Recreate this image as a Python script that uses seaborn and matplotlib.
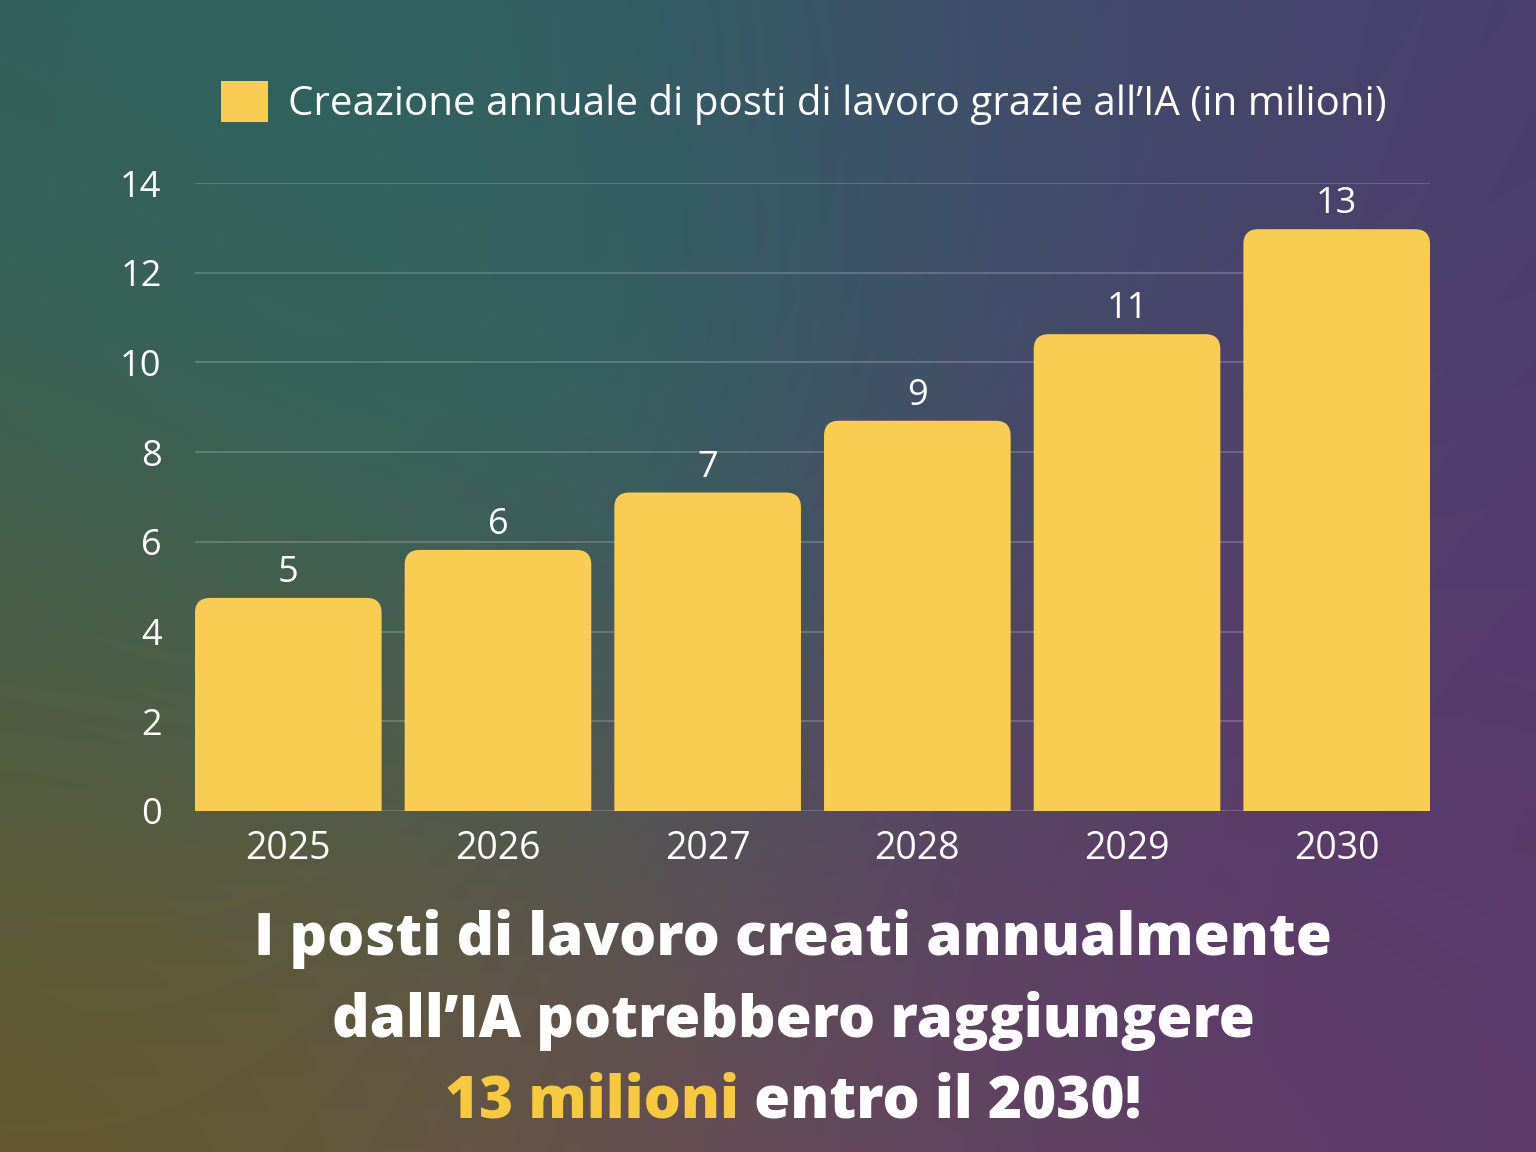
import numpy as np
import pandas as pd
import matplotlib
matplotlib.use("Agg")
import matplotlib.pyplot as plt
import seaborn as sns
from matplotlib.patches import FancyBboxPatch, Patch
from matplotlib.colors import to_rgb

# ---- data ----
years = ["2025", "2026", "2027", "2028", "2029", "2030"]
jobs = [4.75, 5.82, 7.1, 8.7, 10.63, 12.97]
value_labels = ["5", "6", "7", "9", "11", "13"]
yticks = [0, 2, 4, 6, 8, 10, 12, 14]
legend_label = "Creazione annuale di posti di lavoro grazie all\u2019IA (in milioni)"
title_lines = ["I posti di lavoro creati annualmente",
               "dall\u2019IA potrebbero raggiungere"]
title_hl = "13 milioni"
title_tail = " entro il 2030!"

BAR = "#f9cd52"
HL = "#f7c93f"
W, H = 1536, 1152

sns.set_theme(style="white")
plt.rcParams['font.family'] = ['Open Sans', 'DejaVu Sans']

fig = plt.figure(figsize=(W / 100, H / 100), dpi=100)

# ---- background gradient ----
bg = fig.add_axes([0, 0, 1, 1], zorder=-10)
anchors = [
    ((0, 0), "#2f5d5a"), ((450, 0), "#2e6560"), ((950, 0), "#3e4f6a"),
    ((1536, 0), "#4a3e6e"), ((0, 580), "#4b5e47"), ((0, 1152), "#675626"),
    ((680, 430), "#27695f"), ((350, 250), "#2d6660"), ((820, 1152), "#6a4b5a"),
    ((1536, 560), "#523a6d"), ((1536, 1152), "#5a3a68"), ((1100, 720), "#5e3a6d"),
    ((380, 940), "#665a38"), ((1150, 150), "#47426d"), ((1250, 1000), "#5e3a68"),
]
yy, xx = np.mgrid[0:H:4, 0:W:4]
num = np.zeros(xx.shape + (3,))
den = np.zeros(xx.shape)
sig = 320.0
for (px, py), c in anchors:
    w = np.exp(-((xx - px) ** 2 + (yy - py) ** 2) / (2 * sig ** 2)) + 1e-9
    num += w[..., None] * np.array(to_rgb(c))
    den += w
img = num / den[..., None]
bg.imshow(img, extent=[0, 1, 0, 1], aspect="auto", interpolation="bilinear")
bg.axis("off")

# ---- bar chart ----
x0, x1, y0, y1 = 195, 1430, 811, 183
ax = fig.add_axes([x0 / W, 1 - y0 / H, (x1 - x0) / W, (y0 - y1) / H])
ax.patch.set_alpha(0)
df = pd.DataFrame({"year": years, "jobs": jobs})
sns.barplot(data=df, x="year", y="jobs", color=BAR, width=0.89, ax=ax,
            saturation=1, zorder=3)
ax.set_xlim(-0.445, 5.445)
ax.set_ylim(0, 14)

# rounded top corners
px_per_x = (x1 - x0) / 5.89
px_per_y = (y0 - y1) / 14.0
rad_px = 15
rs = rad_px / px_per_x
aspect = px_per_x / px_per_y
for p in list(ax.patches):
    bx, by = p.get_x(), p.get_y()
    bw, bh = p.get_width(), p.get_height()
    ext = 1.0
    fp = FancyBboxPatch((bx, by - ext), bw, bh + ext,
                        boxstyle=f"round,pad=0,rounding_size={rs}",
                        mutation_aspect=aspect, facecolor=BAR,
                        edgecolor="none", zorder=3, clip_on=True)
    p.remove()
    ax.add_patch(fp)

for i, (v, lab) in enumerate(zip(jobs, value_labels)):
    ax.annotate(lab, (i, v), xytext=(0, 5), textcoords="offset points",
                ha="center", va="bottom", color="white", fontsize=26)

ax.set_yticks(yticks)
ax.set_yticklabels([str(t) for t in yticks])
ax.yaxis.grid(True, color="white", alpha=0.18, linewidth=1.5, zorder=0)
ax.set_axisbelow(True)
for s in ax.spines.values():
    s.set_visible(False)
ax.tick_params(axis="y", colors="white", labelsize=26, length=0, pad=24)
ax.tick_params(axis="x", colors="white", labelsize=27, length=0, pad=14)
ax.set_xlabel("")
ax.set_ylabel("")

# ---- legend ----
leg = fig.legend(handles=[Patch(facecolor=BAR, edgecolor="none", label=legend_label)],
                 loc="center left", bbox_to_anchor=(221 / W, 1 - 103 / H),
                 frameon=False, fontsize=29, handlelength=1.17, handleheight=1.17,
                 handletextpad=0.5, borderpad=0, borderaxespad=0)
for t in leg.get_texts():
    t.set_color("white")

# ---- title ----
tfont = dict(fontsize=42, fontweight="heavy", family=['Open Sans', 'DejaVu Sans'])
cx = 793 / W
fig.text(cx, 1 - 955 / H, title_lines[0], ha="center", va="baseline", color="white", **tfont)
fig.text(cx, 1 - 1037 / H, title_lines[1], ha="center", va="baseline", color="white", **tfont)

fig.canvas.draw()
r = fig.canvas.get_renderer()
ta = fig.text(0, 0, title_hl, va="baseline", color=HL, **tfont)
tb = fig.text(0, 0, title_tail, va="baseline", color="white", **tfont)
wa = ta.get_window_extent(r).width
wb = tb.get_window_extent(r).width
start = cx * W - (wa + wb) / 2
ta.set_position((start / W, 1 - 1118 / H))
tb.set_position(((start + wa) / W, 1 - 1118 / H))

fig.savefig("out.png", dpi=100)
